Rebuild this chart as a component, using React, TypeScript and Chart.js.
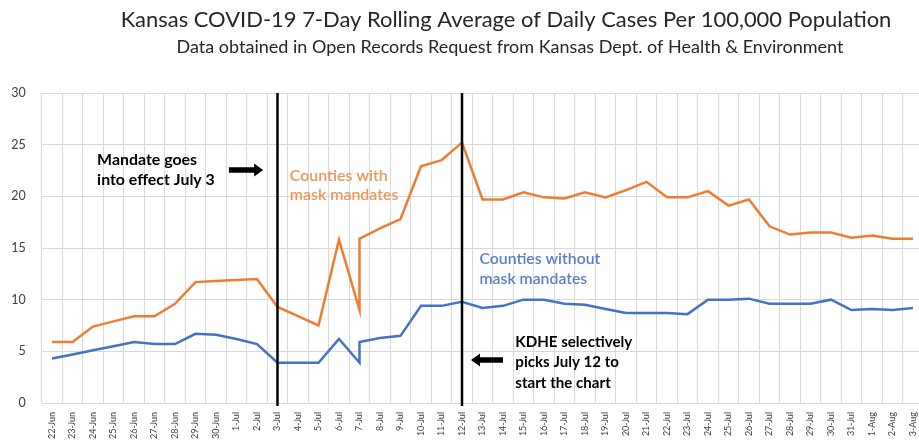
import React, { useEffect, useRef } from 'react';
import { Chart, registerables } from 'chart.js';

Chart.register(...registerables);

// ---------- data ----------
const categories = [
  '22-Jun', '23-Jun', '24-Jun', '25-Jun', '26-Jun', '27-Jun', '28-Jun', '29-Jun', '30-Jun',
  '1-Jul', '2-Jul', '3-Jul', '4-Jul', '5-Jul', '6-Jul', '7-Jul', '8-Jul', '9-Jul', '10-Jul',
  '11-Jul', '12-Jul', '13-Jul', '14-Jul', '15-Jul', '16-Jul', '17-Jul', '18-Jul', '19-Jul',
  '20-Jul', '21-Jul', '22-Jul', '23-Jul', '24-Jul', '25-Jul', '26-Jul', '27-Jul', '28-Jul',
  '29-Jul', '30-Jul', '31-Jul', '1-Aug', '2-Aug', '3-Aug',
];

// 7-Jul appears twice: the series jumps vertically on that date
const pointDates = [
  '22-Jun', '23-Jun', '24-Jun', '25-Jun', '26-Jun', '27-Jun', '28-Jun', '29-Jun', '30-Jun',
  '1-Jul', '2-Jul', '3-Jul', '4-Jul', '5-Jul', '6-Jul', '7-Jul', '7-Jul', '8-Jul', '9-Jul', '10-Jul',
  '11-Jul', '12-Jul', '13-Jul', '14-Jul', '15-Jul', '16-Jul', '17-Jul', '18-Jul', '19-Jul',
  '20-Jul', '21-Jul', '22-Jul', '23-Jul', '24-Jul', '25-Jul', '26-Jul', '27-Jul', '28-Jul',
  '29-Jul', '30-Jul', '31-Jul', '1-Aug', '2-Aug', '3-Aug',
];

const withMandate = [
  5.9, 5.9, 7.4, 7.9, 8.4, 8.4, 9.6, 11.7, 11.8,
  11.9, 12.0, 9.3, 8.4, 7.5, 15.8, 9.0, 15.9, 16.9, 17.8, 22.9,
  23.5, 25.2, 19.7, 19.7, 20.4, 19.9, 19.8, 20.4, 19.9,
  20.6, 21.4, 19.9, 19.9, 20.5, 19.1, 19.7, 17.1, 16.3,
  16.5, 16.5, 16.0, 16.2, 15.9, 15.9,
];

const withoutMandate = [
  4.3, 4.7, 5.1, 5.5, 5.9, 5.7, 5.7, 6.7, 6.6,
  6.2, 5.7, 3.9, 3.9, 3.9, 6.2, 3.9, 5.9, 6.3, 6.5, 9.4,
  9.4, 9.8, 9.2, 9.4, 10.0, 10.0, 9.6, 9.5, 9.1,
  8.7, 8.7, 8.7, 8.6, 10.0, 10.0, 10.1, 9.6, 9.6,
  9.6, 10.0, 9.0, 9.1, 9.0, 9.2,
];

const yMin = 0;
const yMax = 30;
const yStep = 5;

const titleText = 'Kansas COVID-19 7-Day Rolling Average of Daily Cases Per 100,000 Population';
const subtitleText = 'Data obtained in Open Records Request from Kansas Dept. of Health & Environment';
const eventDates = ['3-Jul', '12-Jul'];

const ORANGE = '#ED7D31';
const BLUE = '#4472C4';
const FONT = 'Lato, "Open Sans", sans-serif';

function fitSize(ctx: CanvasRenderingContext2D, text: string, weight: string, target: number) {
  ctx.font = `${weight} 20px ${FONT}`;
  const w = ctx.measureText(text).width;
  return (20 * target) / w;
}

const annotationPlugin = {
  id: 'kansasAnnotations',
  afterDatasetsDraw(chart: any) {
    const { ctx, chartArea } = chart;
    const x = chart.scales.x;
    const y = chart.scales.y;
    const px = (i: number) => x.getPixelForValue(i);
    const py = (v: number) => y.getPixelForValue(v);
    ctx.save();

    // vertical event lines
    ctx.strokeStyle = '#000';
    ctx.lineWidth = 2.5;
    for (const d of eventDates) {
      const xx = px(categories.indexOf(d));
      ctx.beginPath();
      ctx.moveTo(xx, chartArea.top);
      ctx.lineTo(xx, chartArea.bottom + 3);
      ctx.stroke();
    }

    const lines = (
      arr: string[], xi: number, yv: number[], weight: string, color: string, size: number
    ) => {
      ctx.font = `${weight} ${size}px ${FONT}`;
      ctx.fillStyle = color;
      ctx.textAlign = 'left';
      ctx.textBaseline = 'middle';
      arr.forEach((t, k) => ctx.fillText(t, px(xi), py(yv[k])));
    };

    const s1 = fitSize(ctx, 'Mandate goes', 'bold', 100);
    lines(['Mandate goes', 'into effect July 3'], 2.2, [23.5, 21.6], 'bold', '#000', s1);
    const s2 = fitSize(ctx, 'Counties with', '600', 98);
    lines(['Counties with', 'mask mandates'], 11.6, [21.95, 20.1], '600', '#F0955A', s2);
    const s3 = fitSize(ctx, 'Counties without', '600', 121);
    lines(['Counties without', 'mask mandates'], 20.85, [13.95, 12.0], '600', '#5A7FC8', s3);
    const s4 = fitSize(ctx, 'KDHE selectively', 'bold', 117);
    lines(['KDHE selectively', 'picks July 12 to', 'start the chart'], 22.6, [5.9, 3.92, 1.94], 'bold', '#000', s4);

    // arrows
    const arrow = (xFrom: number, xTo: number, yv: number) => {
      const a = px(xFrom);
      const b = px(xTo);
      const yy = py(yv);
      const dir = b > a ? 1 : -1;
      const head = 9;
      const shaft = 2.8;
      const hh = 6.5;
      ctx.fillStyle = '#000';
      ctx.beginPath();
      ctx.moveTo(a, yy - shaft);
      ctx.lineTo(b - dir * head, yy - shaft);
      ctx.lineTo(b - dir * head, yy - hh);
      ctx.lineTo(b, yy);
      ctx.lineTo(b - dir * head, yy + hh);
      ctx.lineTo(b - dir * head, yy + shaft);
      ctx.lineTo(a, yy + shaft);
      ctx.closePath();
      ctx.fill();
    };
    arrow(8.63, 10.3, 22.55);
    arrow(22.0, 20.44, 4.16);

    ctx.restore();
  },
};

const titlePlugin = {
  id: 'kansasTitles',
  afterDraw(chart: any) {
    const { ctx } = chart;
    ctx.save();
    ctx.fillStyle = '#262626';
    ctx.textAlign = 'center';
    ctx.textBaseline = 'middle';
    const t = fitSize(ctx, titleText, 'normal', 771);
    ctx.font = `normal ${t}px ${FONT}`;
    ctx.fillText(titleText, 506, 20);
    const s = fitSize(ctx, subtitleText, 'normal', 667);
    ctx.font = `normal ${s}px ${FONT}`;
    ctx.fillText(subtitleText, 510, 47);
    ctx.restore();
  },
};

export default function App() {
  const ref = useRef<HTMLCanvasElement | null>(null);

  useEffect(() => {
    document.body.style.margin = '0';
    document.body.style.overflow = 'hidden';
    if (!ref.current) return;
    const chart = new Chart(ref.current, {
      type: 'line',
      data: {
        labels: categories,
        datasets: [
          {
            label: 'Counties with mask mandates',
            data: pointDates.map((d, i) => ({ x: d, y: withMandate[i] })) as any,
            borderColor: ORANGE,
            borderWidth: 2.5,
            pointRadius: 0,
            tension: 0,
          },
          {
            label: 'Counties without mask mandates',
            data: pointDates.map((d, i) => ({ x: d, y: withoutMandate[i] })) as any,
            borderColor: BLUE,
            borderWidth: 2.5,
            pointRadius: 0,
            tension: 0,
          },
        ],
      },
      options: {
        animation: false,
        responsive: false,
        layout: { padding: { top: 93, left: 0, right: 0.75, bottom: 0 } },
        plugins: {
          legend: { display: false },
          title: { display: false },
          tooltip: { enabled: false },
        },
        scales: {
          x: {
            type: 'category',
            offset: true,
            grid: { offset: true, color: '#D9D9D9', drawTicks: false },
            border: { display: false },
            ticks: {
              autoSkip: false,
              maxRotation: 90,
              minRotation: 90,
              padding: 9,
              color: '#404040',
              font: { family: FONT, size: 9 },
            },
            afterFit: (s: any) => {
              s.height = 41;
              s.paddingLeft = 0;
              s.paddingRight = 0;
            },
          },
          y: {
            min: yMin,
            max: yMax,
            grid: { color: '#D9D9D9', drawTicks: false },
            border: { display: false },
            ticks: {
              stepSize: yStep,
              padding: 16,
              color: '#404040',
              font: { family: FONT, size: 12.5 },
            },
            afterFit: (s: any) => {
              s.width = 41.75;
              s.paddingTop = 0;
              s.paddingBottom = 0;
            },
          },
        },
      },
      plugins: [annotationPlugin, titlePlugin],
    });
    return () => chart.destroy();
  }, []);

  return (
    <div style={{ width: 919, height: 444, overflow: 'hidden', background: '#fff' }}>
      <canvas ref={ref} width={924} height={444} style={{ display: 'block' }} />
    </div>
  );
}
